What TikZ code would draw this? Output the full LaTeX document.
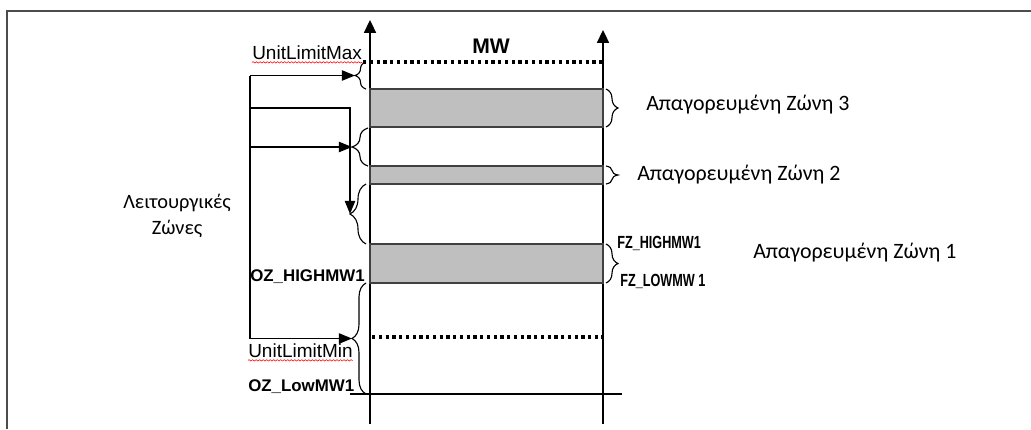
\documentclass[tikz,border=0pt]{standalone}
\usepackage{fontspec}
\setmainfont{Liberation Sans}
\newfontfamily\greekfont{Carlito}
\newfontfamily\narrowfont[FakeStretch=0.72]{Liberation Sans}
\usetikzlibrary{arrows.meta, positioning, decorations.pathreplacing, decorations.pathmorphing}

\begin{document}
\begin{tikzpicture}[
    x=0.025cm, y=-0.025cm,
    axis/.style={-{Triangle[length=0.32cm, width=0.3cm]}, line width=1.1pt},
    zone/.style={draw=black!75, fill=black!25, line width=0.8pt},
    limit/.style={line width=2.6pt, dash pattern=on 2.4pt off 2.4pt},
    bracket/.style={decorate, decoration={brace, amplitude=#1}, line width=0.8pt},
    bracket/.default=0.3cm,
    feed/.style={-{Triangle[length=0.33cm, width=0.26cm]}, line width=0.9pt},
    limtext/.style={inner sep=0pt, anchor=west, font=\fontsize{13.5}{16}\selectfont},
    tag/.style={inner sep=0pt, anchor=west, font=\bfseries\fontsize{12}{14}\selectfont},
    fztag/.style={inner sep=0pt, anchor=west, font=\narrowfont\bfseries\fontsize{12.5}{14}\selectfont},
    greek/.style={inner sep=0pt, anchor=west, align=center, font=\greekfont\fontsize{15.6}{18}\selectfont},
    spell/.style={red, line width=0.4pt, decorate, decoration={snake, amplitude=0.5pt, segment length=2.5pt}}
]
    \useasboundingbox (0,0) rectangle (1031,429);
    % frame
    \draw[black!70, line width=1.4pt] (7,429) -- (7,11) -- (1031,11);

    % axes
    \coordinate (lowA) at (370,424);
    \coordinate (topA) at (370,20);
    \coordinate (lowB) at (603,424);
    \coordinate (topB) at (603,30);
    \draw[axis] (lowA) -- (topA);
    \draw[axis] (lowB) -- (topB);
    \node[font=\bfseries\fontsize{15}{16}\selectfont, inner sep=0pt] (mw) at (491,46) {MW};

    % forbidden zones
    \draw[zone] (370,89) rectangle (603,127);
    \draw[zone] (370,166) rectangle (603,184);
    \draw[zone] (370,244) rectangle (603,283);

    % limits
    \draw[limit] (363,62) -- (603,62);
    \draw[limit] (372,337) -- (603,337);
    \draw[line width=0.9pt] (350,394) -- (622,394);

    % right braces
    \draw[bracket=0.3cm] (606,89) -- (606,127);
    \draw[bracket=0.3cm] (606,166) -- (606,184);
    \draw[bracket=0.3cm] (606,244) -- (606,283);
    \node[greek] (fz3) at (646,105) {Απαγορευμένη Ζώνη 3};
    \node[greek] (fz2) at (637,175) {Απαγορευμένη Ζώνη 2};
    \node[greek] (fz1) at (753,253) {Απαγορευμένη Ζώνη 1};
    \node[fztag] (fzhigh) at (617,243) {FZ\_HIGHMW1};
    \node[fztag] (fzlow) at (620,281) {FZ\_LOWMW 1};

    % left braces
    \draw[bracket=0.275cm] (366,89) -- (366,62);
    \draw[bracket=0.4cm] (368,166) -- (368,128);
    \draw[bracket=0.4cm] (366,244) -- (366,184);
    \draw[bracket=0.35cm] (366,394) -- (366,283);
    \coordinate (tmax) at (355,75.5);
    \coordinate (t32) at (352,147);
    \coordinate (t21) at (350,214);
    \coordinate (t10) at (352,338.5);

    % operating zones
    \coordinate (j1) at (250,75.5);
    \coordinate (j2) at (250,108);
    \coordinate (j3) at (250,147);
    \coordinate (j4) at (250,338.5);
    \draw[line width=0.9pt] (j1) -- (j4);
    \draw[feed] (j1) -- (tmax);
    \draw[feed] (j2) -| (t21);
    \draw[feed] (j3) -- (t32);
    \draw[feed] (j4) -- (t10);
    \node[greek, anchor=center, font=\greekfont\fontsize{14.5}{18}\selectfont] (oz) at (177,216) {Λειτουργικές\\Ζώνες};

    % limit labels
    \node[limtext] (umax) at (252,53) {UnitLimitMax};
    \node[limtext] (umin) at (248,351) {UnitLimitMin};
    \node[tag] (ozhigh) at (250,277) {OZ\_HIGHMW1};
    \node[tag] (ozlow) at (248,387) {OZ\_LowMW1};
    \draw[spell] ([yshift=-1.5pt]umax.south west) -- ([yshift=-1.5pt]umax.south east);
    \draw[spell] ([yshift=-1.5pt]umin.south west) -- ([yshift=-1.5pt]umin.south east);
\end{tikzpicture}
\end{document}
